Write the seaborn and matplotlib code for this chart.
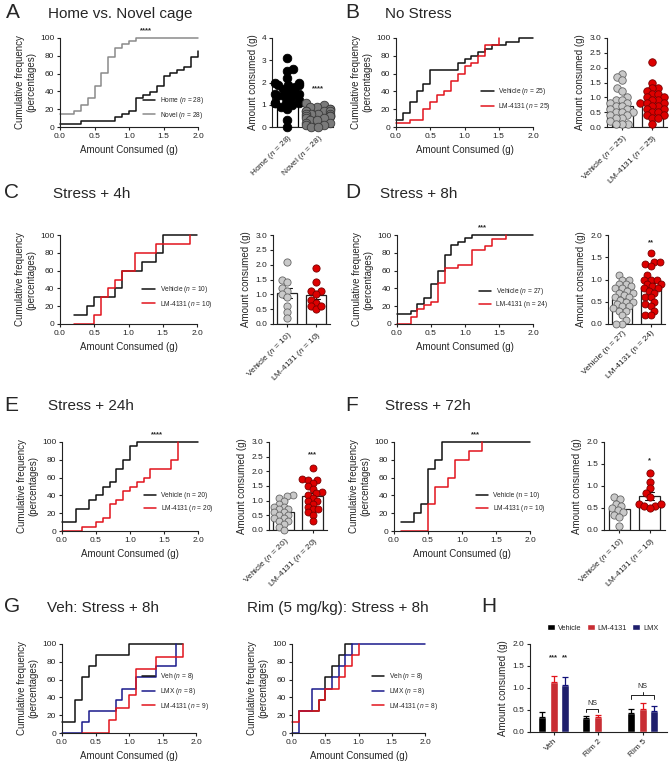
import numpy as np
import pandas as pd
import matplotlib
matplotlib.use("Agg")
import matplotlib.pyplot as plt
import seaborn as sns
import warnings
warnings.filterwarnings("ignore")

sns.set_theme(style="ticks")
plt.rcParams["font.family"] = ["Liberation Sans", "DejaVu Sans"]
plt.rcParams["mathtext.fontset"] = "custom"
plt.rcParams["mathtext.rm"] = "Liberation Sans"
plt.rcParams["mathtext.it"] = "Liberation Sans:italic"
plt.rcParams["axes.linewidth"] = 0.8

# ---------------- data ----------------
cdf_xticks = [0.0, 0.5, 1.0, 1.5, 2.0]
cdf_yticks = [0, 20, 40, 60, 80, 100]

# A
a_home_x = [0.0, 0.3, 0.8, 0.9, 1.0, 1.1, 1.2, 1.3, 1.4, 1.5, 1.6, 1.7, 1.8, 1.9, 2.0]
a_home_y = [3.6, 7.1, 10.7, 14.3, 17.9, 32.1, 35.7, 39.3, 46.4, 57.1, 60.7, 64.3, 67.9, 78.6, 85.7]
a_novel_x = [0.0, 0.2, 0.3, 0.4, 0.5, 0.6, 0.7, 0.8, 0.9, 1.0, 1.1, 2.0]
a_novel_y = [14.3, 17.9, 25.0, 32.1, 46.4, 60.7, 78.6, 89.3, 92.9, 96.4, 100, 100]
a_home_pts = [3.1, 2.6, 2.5, 2.2, 2.0, 2.0, 1.9, 1.9, 1.9, 1.8, 1.7, 1.6, 1.5, 1.5, 1.5,
              1.4, 1.4, 1.3, 1.2, 1.1, 1.1, 1.1, 1.1, 1.0, 0.9, 0.8, 0.3, 0.0]
a_novel_pts = [1.1, 1.0, 0.9, 0.9, 0.8, 0.8, 0.7, 0.7, 0.7, 0.7, 0.6, 0.6, 0.6, 0.6, 0.5,
               0.5, 0.5, 0.5, 0.4, 0.4, 0.3, 0.3, 0.2, 0.2, 0.1, 0.1, 0.0, 0.0]
# B
b_veh_x = [0.0, 0.1, 0.2, 0.3, 0.4, 0.5, 0.9, 1.0, 1.1, 1.2, 1.3, 1.4, 1.6, 1.8, 2.0]
b_veh_y = [8, 16, 28, 40, 48, 64, 72, 76, 80, 84, 88, 92, 96, 100, 100]
b_lm_x = [0.0, 0.2, 0.4, 0.5, 0.6, 0.7, 0.8, 0.9, 1.0, 1.1, 1.2, 1.3, 1.5]
b_lm_y = [4, 8, 20, 28, 36, 40, 52, 60, 68, 72, 80, 92, 100]
b_veh_pts = [1.8, 1.7, 1.6, 1.3, 1.2, 1.0, 0.9, 0.9, 0.8, 0.8, 0.7, 0.7, 0.6, 0.6, 0.5,
             0.5, 0.5, 0.4, 0.4, 0.3, 0.3, 0.2, 0.1, 0.1, 0.1]
b_lm_pts = [2.2, 1.5, 1.3, 1.3, 1.2, 1.1, 1.1, 1.0, 1.0, 0.9, 0.9, 0.8, 0.8, 0.8, 0.7,
            0.7, 0.6, 0.6, 0.5, 0.5, 0.4, 0.4, 0.3, 0.3, 0.1]
# C
c_veh_x = [0.2, 0.4, 0.5, 0.8, 0.9, 1.2, 1.4, 1.5, 2.0]
c_veh_y = [10, 20, 30, 40, 60, 70, 80, 100, 100]
c_lm_x = [0.2, 0.5, 0.6, 0.7, 0.8, 0.9, 1.1, 1.4, 1.9]
c_lm_y = [0, 10, 30, 40, 50, 60, 80, 90, 100]
c_veh_pts = [2.1, 1.5, 1.4, 1.2, 1.1, 1.0, 0.9, 0.6, 0.4, 0.2]
c_lm_pts = [1.9, 1.4, 1.1, 1.1, 1.0, 0.8, 0.7, 0.6, 0.5, 0.6]
# D
d_veh_x = [0.0, 0.2, 0.3, 0.4, 0.5, 0.6, 0.7, 0.8, 0.9, 1.0, 1.1, 2.0]
d_veh_y = [11.1, 14.8, 22.2, 29.6, 44.4, 59.3, 77.8, 88.9, 92.6, 96.3, 100, 100]
d_lm_x = [0.0, 0.2, 0.3, 0.4, 0.5, 0.6, 0.7, 0.9, 1.1, 1.3, 1.4, 1.6]
d_lm_y = [0, 8.3, 16.7, 20.8, 25.0, 45.8, 62.5, 66.7, 83.3, 87.5, 95.8, 100]
d_veh_pts = [1.1, 1.0, 1.0, 0.9, 0.9, 0.85, 0.8, 0.8, 0.75, 0.7, 0.7, 0.65, 0.6, 0.6,
             0.55, 0.5, 0.5, 0.45, 0.4, 0.4, 0.35, 0.3, 0.3, 0.2, 0.1, 0.0, 0.0]
d_lm_pts = [1.6, 1.4, 1.4, 1.35, 1.3, 1.1, 1.0, 1.0, 1.0, 0.9, 0.9, 0.85, 0.8, 0.8,
            0.75, 0.7, 0.6, 0.6, 0.5, 0.45, 0.4, 0.3, 0.2, 0.2]
# E
e_veh_x = [0.0, 0.2, 0.4, 0.5, 0.6, 0.7, 0.8, 0.9, 1.0, 1.1, 2.0]
e_veh_y = [10, 25, 35, 40, 50, 55, 70, 80, 95, 100, 100]
e_lm_x = [0.0, 0.3, 0.5, 0.6, 0.7, 0.8, 0.9, 1.0, 1.1, 1.2, 1.3, 1.6, 1.7]
e_lm_y = [0, 5, 10, 15, 30, 35, 45, 50, 55, 60, 70, 80, 100]
e_veh_pts = [1.2, 1.15, 1.1, 1.0, 0.9, 0.8, 0.8, 0.7, 0.7, 0.6, 0.6, 0.5, 0.5, 0.4,
             0.4, 0.3, 0.3, 0.2, 0.1, 0.0]
e_lm_pts = [2.1, 1.75, 1.7, 1.7, 1.6, 1.5, 1.4, 1.3, 1.25, 1.2, 1.1, 1.0, 1.0, 0.9,
            0.8, 0.7, 0.7, 0.6, 0.5, 0.3]
# F
f_veh_x = [0.1, 0.3, 0.4, 0.5, 0.6, 0.7, 2.0]
f_veh_y = [10, 20, 30, 70, 80, 100, 100]
f_lm_x = [0.1, 0.5, 0.6, 0.8, 0.9, 1.1, 1.3]
f_lm_y = [0, 30, 50, 60, 80, 90, 100]
f_veh_pts = [0.75, 0.7, 0.6, 0.55, 0.5, 0.45, 0.4, 0.35, 0.3, 0.1]
f_lm_pts = [1.3, 1.1, 0.95, 0.85, 0.75, 0.6, 0.55, 0.55, 0.5, 0.6]
# G (Veh)
g1_veh_x = [0.0, 0.2, 0.3, 0.4, 0.5, 1.0, 1.8]
g1_veh_y = [12.5, 37.5, 62.5, 75, 87.5, 100, 100]
g1_lmx_x = [0.0, 0.3, 0.4, 0.8, 0.9, 1.1, 1.4, 1.7]
g1_lmx_y = [0, 12.5, 25, 37.5, 50, 62.5, 75, 100]
g1_lm_x = [0.3, 0.7, 0.8, 1.0, 1.1, 1.4, 1.8]
g1_lm_y = [0, 14.3, 28.6, 42.9, 71.4, 85.7, 100]
# G (Rim)
g2_veh_x = [0.1, 0.4, 0.5, 0.6, 0.7, 0.8, 0.9]
g2_veh_y = [25, 37.5, 62.5, 75, 87.5, 100, 100]
g2_lmx_x = [0.0, 0.1, 0.3, 0.6, 0.7, 0.8, 0.9, 2.0]
g2_lmx_y = [0, 25, 50, 62.5, 75, 87.5, 100, 100]
g2_lm_x = [0.0, 0.1, 0.4, 0.5, 0.7, 0.8, 0.9, 1.0]
g2_lm_y = [12.5, 25, 37.5, 50, 62.5, 75, 87.5, 100]
# H
h_groups = ["Veh", "Rim 2", "Rim 5"]
h_treatments = ["Vehicle", "LM-4131", "LMX"]
h_vehicle_mean = [0.35, 0.31, 0.43]
h_lm_mean = [1.13, 0.33, 0.53]
h_lmx_mean = [1.07, np.nan, 0.48]
h_vehicle_sem = [0.10, 0.05, 0.10]
h_lm_sem = [0.14, 0.06, 0.12]
h_lmx_sem = [0.19, np.nan, 0.11]

# ---------------- style ----------------
RED = "#e2141c"
BLUE = "#1a1a8c"
BLACK = "#111111"
GREY = "#8a8a8a"
DOT_GREY = "#c9c9c9"
DOT_RED = "#dd0000"

W, H = 669, 762
fig = plt.figure(figsize=(W / 100, H / 100), dpi=100)
swarm_fix = []  # (collection, final marker size)


def add_ax(l, t, r, b):
    return fig.add_axes([l / W, 1 - b / H, (r - l) / W, (b - t) / H])


def style(ax):
    sns.despine(ax=ax)
    ax.tick_params(axis="both", labelsize=6, length=2.5, width=0.8, pad=1.5, colors="#222222")
    for s in ax.spines.values():
        s.set_color("#222222")


def ftext(x, y, s, size, **kw):
    fig.text(x / W, 1 - y / H, s, fontsize=size, va="center", ha="left", **kw)


def cdf_panel(box, curves, anchor, stars=None, star_x=1.0, xlabel=True):
    ax = add_ax(*box)
    for xs, ys, col, lab in curves:
        sns.lineplot(x=xs, y=ys, ax=ax, color=col, label=lab, drawstyle="steps-post",
                     estimator=None, sort=False, lw=1.1, clip_on=False)
    ax.set_xlim(0, 2.0)
    ax.set_ylim(0, 100)
    ax.set_xticks(cdf_xticks)
    ax.set_xticklabels([f"{t:.1f}" for t in cdf_xticks])
    ax.set_yticks(cdf_yticks)
    ax.set_xlabel("Amount Consumed (g)" if xlabel else "", fontsize=7, labelpad=4)
    ax.set_ylabel("Cumulative frequency\n(percentages)", fontsize=7, labelpad=3, linespacing=1.1)
    ax.legend(loc="lower left", bbox_to_anchor=anchor, frameon=False, fontsize=4.8,
              handlelength=1.9, handletextpad=0.7, labelspacing=0.55, borderpad=0, borderaxespad=0)
    if stars:
        ax.text(star_x, 104, stars, ha="center", va="bottom", fontsize=5.5, fontweight="bold")
    style(ax)
    return ax


def bar_panel(box, labels, pts, fills, edges, bar_edges, ylim, yticks, stars=None, star_y=None, size=5):
    ax = add_ax(*box)
    df = pd.DataFrame({"g": np.repeat(labels, [len(p) for p in pts]),
                       "v": np.concatenate(pts)})
    sns.barplot(data=df, x="g", y="v", order=labels, color="white", errorbar="se",
                capsize=0.3, err_kws={"color": "#111111", "linewidth": 0.8},
                width=0.7, linewidth=0.9, ax=ax)
    for patch, ec in zip(ax.patches, bar_edges):
        patch.set_edgecolor(ec)
    for lab, fc, ec in zip(labels, fills, edges):
        n0 = len(ax.collections)
        # swarm laid out with smaller markers, then markers enlarged so they overlap
        sns.swarmplot(data=df[df.g == lab], x="g", y="v", order=labels, color=fc,
                      edgecolor=ec, linewidth=0.6, size=size * 0.68, ax=ax, zorder=3,
                      clip_on=False)
        for coll in ax.collections[n0:]:
            swarm_fix.append((coll, size))
    ax.set_ylim(*ylim)
    ax.set_yticks(yticks)
    ax.set_yticklabels([f"{t:g}" if ylim[1] == 4 else f"{t:.1f}" for t in yticks])
    ax.set_xlim(-0.5, 1.5)
    ax.set_xticks([0, 1])
    ax.set_xticklabels(labels, rotation=45, ha="right", rotation_mode="anchor", fontsize=6)
    ax.set_xlabel("")
    ax.set_ylabel("Amount consumed (g)", fontsize=7, labelpad=3)
    if stars:
        ax.text(1, star_y, stars, ha="center", va="bottom", fontsize=5.5, fontweight="bold")
    style(ax)
    ax.tick_params(axis="x", length=2.5, labelsize=6)
    return ax


nit = r"$\mathit{n}$"

# ---------------- panel A ----------------
ftext(6, 13, "A", 15)
ftext(48, 14, "Home vs. Novel cage", 11)
cdf_panel((60, 38, 198, 127),
          [(a_home_x, a_home_y, BLACK, f"Home ({nit} = 28)"),
           (a_novel_x, a_novel_y, GREY, f"Novel ({nit} = 28)")],
          (0.6, 0.07), "****", 1.25)
bar_panel((272, 38, 333, 127), [f"Home ({nit} = 28)", f"Novel ({nit} = 28)"],
          [a_home_pts, a_novel_pts], ["#000000", "#7a7a7a"], ["#000000", "#3a3a3a"],
          ["#000000", "#7a7a7a"], (0, 4), [0, 1, 2, 3, 4], "****", 1.55, size=6.2)

# ---------------- panel B ----------------
ftext(345, 13, "B", 15)
ftext(385, 14, "No Stress", 11)
cdf_panel((396, 38, 533, 127),
          [(b_veh_x, b_veh_y, BLACK, f"Vehicle ({nit} = 25)"),
           (b_lm_x, b_lm_y, RED, f"LM-4131 ({nit} = 25)")],
          (0.62, 0.17))
bar_panel((607, 38, 667, 127), [f"Vehicle ({nit} = 25)", f"LM-4131 ({nit} = 25)"],
          [b_veh_pts, b_lm_pts], [DOT_GREY, DOT_RED], ["#666666", "#7a0000"],
          ["#222222", "#222222"], (0, 3), [0, 0.5, 1, 1.5, 2, 2.5, 3], size=5.4)

# ---------------- panel C ----------------
ftext(4, 193, "C", 15)
ftext(53, 194, "Stress + 4h", 11)
cdf_panel((60, 235, 197, 324),
          [(c_veh_x, c_veh_y, BLACK, f"Vehicle ({nit} = 10)"),
           (c_lm_x, c_lm_y, RED, f"LM-4131 ({nit} = 10)")],
          (0.6, 0.16))
bar_panel((273, 235, 330, 324), [f"Vehicle ({nit} = 10)", f"LM-4131 ({nit} = 10)"],
          [c_veh_pts, c_lm_pts], [DOT_GREY, DOT_RED], ["#666666", "#7a0000"],
          ["#222222", "#222222"], (0, 3), [0, 0.5, 1, 1.5, 2, 2.5, 3], size=5.2)

# ---------------- panel D ----------------
ftext(345, 193, "D", 15)
ftext(380, 194, "Stress + 8h", 11)
cdf_panel((397, 235, 533, 324),
          [(d_veh_x, d_veh_y, BLACK, f"Vehicle ({nit} = 27)"),
           (d_lm_x, d_lm_y, RED, "LM-4131 (n = 24)")],
          (0.6, 0.18), "***", 1.25)
bar_panel((608, 235, 665, 324), ["Vehicle (n = 27)", "LM-4131 (n = 24)"],
          [d_veh_pts, d_lm_pts], [DOT_GREY, DOT_RED], ["#666666", "#7a0000"],
          ["#222222", "#222222"], (0, 2), [0, 0.5, 1, 1.5, 2], "**", 1.75, size=5.0)

# ---------------- panel E ----------------
ftext(4, 405, "E", 15)
ftext(48, 406, "Stress + 24h", 11)
cdf_panel((62, 442, 198, 531),
          [(e_veh_x, e_veh_y, BLACK, "Vehicle (n = 20)"),
           (e_lm_x, e_lm_y, RED, f"LM-4131 ({nit} = 20)")],
          (0.6, 0.19), "****", 1.4)
bar_panel((269, 442, 327, 530), [f"Vehicle ({nit} = 20)", f"LM-4131 ({nit} = 20)"],
          [e_veh_pts, e_lm_pts], [DOT_GREY, DOT_RED], ["#666666", "#7a0000"],
          ["#222222", "#222222"], (0, 3), [0, 0.5, 1, 1.5, 2, 2.5, 3], "***", 2.45, size=5.0)

# ---------------- panel F ----------------
ftext(345, 405, "F", 15)
ftext(385, 406, "Stress + 72h", 11)
cdf_panel((394, 442, 530, 531),
          [(f_veh_x, f_veh_y, BLACK, "Vehicle (n = 10)"),
           (f_lm_x, f_lm_y, RED, f"LM-4131 ({nit} = 10)")],
          (0.6, 0.19), "***", 1.2)
bar_panel((604, 442, 665, 530), [f"Vehicle ({nit} = 10)", f"LM-4131 ({nit} = 10)"],
          [f_veh_pts, f_lm_pts], [DOT_GREY, DOT_RED], ["#666666", "#7a0000"],
          ["#222222", "#222222"], (0, 2), [0, 0.5, 1, 1.5, 2], "*", 1.5, size=5.2)

# ---------------- panel G ----------------
ftext(4, 607, "G", 15)
ftext(47, 608, "Veh: Stress + 8h", 11)
cdf_panel((62, 644, 196, 733),
          [(g1_veh_x, g1_veh_y, BLACK, f"Veh ({nit} = 8)"),
           (g1_lmx_x, g1_lmx_y, BLUE, f"LMX ({nit} = 8)"),
           (g1_lm_x, g1_lm_y, RED, f"LM-4131 ({nit} = 9)")],
          (0.6, 0.24))
ftext(247, 608, "Rim (5 mg/kg): Stress + 8h", 11)
cdf_panel((292, 644, 425, 733),
          [(g2_veh_x, g2_veh_y, BLACK, f"Veh ({nit} = 8)"),
           (g2_lmx_x, g2_lmx_y, BLUE, f"LMX ({nit} = 8)"),
           (g2_lm_x, g2_lm_y, RED, f"LM-4131 ({nit} = 8)")],
          (0.6, 0.24))

# ---------------- panel H ----------------
ftext(481, 607, "H", 15)
axh = add_ax(530, 644, 667, 732)
h_df = pd.DataFrame({
    "group": h_groups * 3,
    "treat": np.repeat(h_treatments, 3),
    "mean": h_vehicle_mean + h_lm_mean + h_lmx_mean,
    "sem": h_vehicle_sem + h_lm_sem + h_lmx_sem,
})
h_colors = {"Vehicle": "#000000", "LM-4131": RED, "LMX": "#12127a"}
sns.barplot(data=h_df.dropna(), x="group", y="mean", hue="treat", order=h_groups,
            hue_order=h_treatments, palette=h_colors, width=0.8, gap=0.33,
            errorbar=None, ax=axh)
for cont, treat in zip(axh.containers, h_treatments):
    sub = h_df[h_df.treat == treat].set_index("group")
    for bar in cont:
        cx = bar.get_x() + bar.get_width() / 2
        g = h_groups[int(round(cx))]
        axh.errorbar(cx, sub.loc[g, "mean"], yerr=[[0], [sub.loc[g, "sem"]]],
                     color=h_colors[treat], capsize=2.2, elinewidth=0.9, capthick=0.9)
axh.set_ylim(0, 2.0)
axh.set_yticks([0, 0.5, 1.0, 1.5, 2.0])
axh.set_yticklabels(["0.0", "0.5", "1.0", "1.5", "2.0"])
axh.set_xlim(-0.53, 2.55)
axh.set_xticks(range(3))
axh.set_xticklabels(h_groups, rotation=45, ha="right", rotation_mode="anchor", fontsize=6)
axh.set_xlabel("")
axh.set_ylabel("Amount consumed (g)", fontsize=7, labelpad=3)
handles, labels = axh.get_legend_handles_labels()
axh.legend(handles, labels, loc="center", bbox_to_anchor=(0.53, 1.18), ncol=3,
           frameon=False, fontsize=5.3, handlelength=1.1, handleheight=0.9,
           handletextpad=0.4, columnspacing=0.7, borderpad=0)
style(axh)
centers = {}
for cont, treat in zip(axh.containers, h_treatments):
    for bar in cont:
        cx = bar.get_x() + bar.get_width() / 2
        centers[(h_groups[int(round(cx))], treat)] = cx
axh.text(centers[("Veh", "LM-4131")], 1.6, "***", ha="center", va="bottom", fontsize=5.5, fontweight="bold")
axh.text(centers[("Veh", "LMX")], 1.6, "**", ha="center", va="bottom", fontsize=5.5, fontweight="bold")
x1, x2 = centers[("Rim 2", "Vehicle")], centers[("Rim 2", "LM-4131")]
axh.plot([x1, x1, x2, x2], [0.45, 0.52, 0.52, 0.45], color="#222222", lw=0.7)
axh.text((x1 + x2) / 2, 0.57, "NS", ha="center", va="bottom", fontsize=5)
x1, xm, x2 = centers[("Rim 5", "Vehicle")], centers[("Rim 5", "LM-4131")], centers[("Rim 5", "LMX")]
axh.plot([x1, x1, x2, x2], [0.76, 0.84, 0.84, 0.76], color="#222222", lw=0.7)
axh.plot([xm, xm], [0.84, 0.9], color="#222222", lw=0.7)
axh.text(xm, 0.95, "NS", ha="center", va="bottom", fontsize=5)

# lay out the swarms, then freeze them and enlarge the markers
fig.canvas.draw()
for coll, sz in swarm_fix:
    if "draw" in coll.__dict__:
        del coll.draw
    coll.set_sizes([sz ** 2])

fig.savefig("out.png", dpi=100)
